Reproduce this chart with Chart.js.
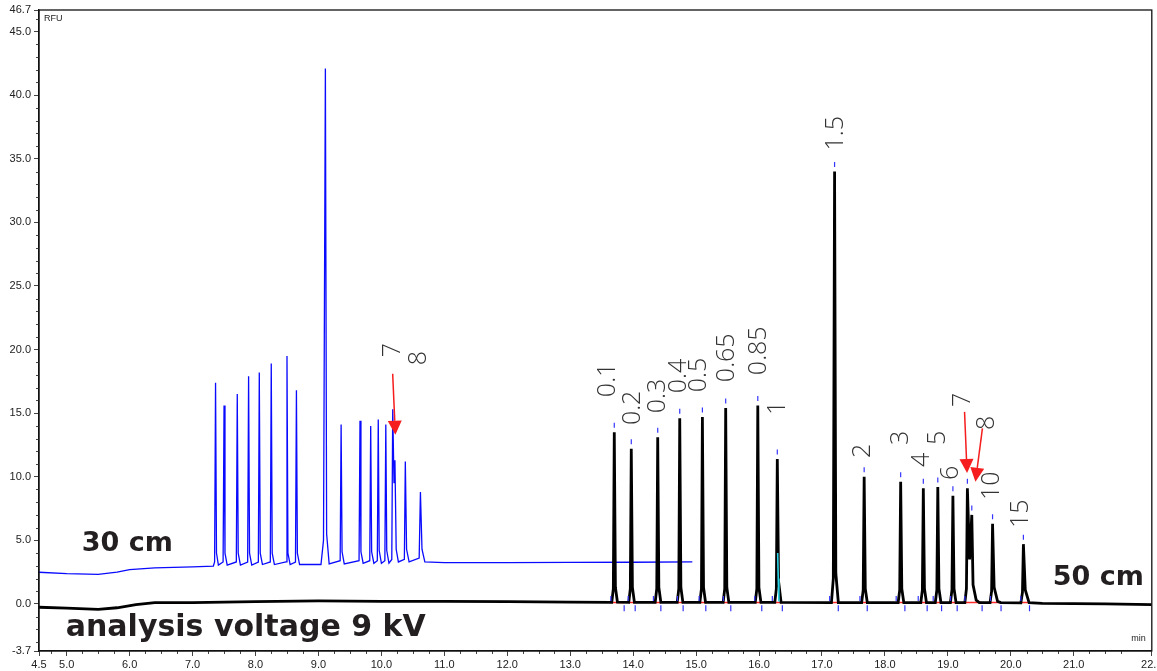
<!DOCTYPE html>
<html>
<head>
<meta charset="utf-8">
<script src="https://cdn.jsdelivr.net/npm/chart.js@4.4.1/dist/chart.umd.min.js"></script>
<style>
  html, body { margin: 0; padding: 0; background: #fff; }
  #wrap { width: 1157px; height: 671px; position: relative; }
</style>
</head>
<body>
<div id="wrap"><canvas id="electropherogram"></canvas></div>
<script>
// axis range and tick values (minutes / RFU)
const xMin = 4.56, xMax = 22.24;
const yMin = -3.7, yMax = 46.7;
const xTickValues = [4.56, 5, 6, 7, 8, 9, 10, 11, 12, 13, 14, 15, 16, 17, 18, 19, 20, 21, 22.24];
const yTickValues = [-3.7, 0, 5, 10, 15, 20, 25, 30, 35, 40, 45, 46.7];

// 30 cm capillary trace [min, RFU]
const blueTrace = [
  [4.56, 2.49], [5.0, 2.38], [5.5, 2.33], [5.8, 2.5], [6.0, 2.7], [6.4, 2.83], [7.0, 2.92], [7.33, 2.98],
  [7.35, 3.3], [7.365, 17.4], [7.38, 4.0], [7.41, 3.05],
  [7.485, 3.3], [7.50, 15.6], [7.515, 4.0], [7.55, 3.05],
  [7.695, 3.3], [7.71, 16.5], [7.725, 4.0], [7.76, 3.05],
  [7.875, 3.3], [7.89, 17.9], [7.905, 4.0], [7.94, 3.05],
  [8.045, 3.3], [8.06, 18.2], [8.075, 4.0], [8.11, 3.1],
  [8.235, 3.3], [8.25, 18.9], [8.265, 4.0], [8.30, 3.1],
  [8.485, 3.3], [8.50, 19.5], [8.515, 4.0], [8.55, 3.1],
  [8.635, 3.3], [8.65, 16.8], [8.665, 4.0], [8.70, 3.1],
  [9.04, 3.1], [9.08, 5.0], [9.11, 42.1], [9.13, 5.5], [9.17, 3.15],
  [9.345, 3.4], [9.36, 14.1], [9.375, 4.1], [9.41, 3.15],
  [9.645, 3.4], [9.66, 14.4], [9.675, 4.1], [9.71, 3.2],
  [9.815, 3.4], [9.83, 14.0], [9.845, 4.1], [9.88, 3.2],
  [9.935, 3.4], [9.95, 14.5], [9.965, 4.2], [10.0, 3.2],
  [10.055, 3.4], [10.07, 14.1], [10.085, 4.2], [10.12, 3.2],
  [10.165, 3.5], [10.18, 15.3], [10.20, 9.5], [10.215, 11.3], [10.235, 4.3], [10.27, 3.3],
  [10.365, 3.5], [10.38, 11.2], [10.40, 4.3], [10.44, 3.3],
  [10.60, 3.6], [10.62, 8.8], [10.645, 4.3], [10.69, 3.3],
  [11.0, 3.25], [12.0, 3.25], [13.0, 3.27], [14.0, 3.28], [14.94, 3.3]
];

// 50 cm capillary trace [min, RFU]
const blackTrace = [
  [4.56, -0.26], [5.0, -0.33], [5.5, -0.42], [5.8, -0.3], [6.1, -0.05], [6.4, 0.1], [7.0, 0.1],
  [8.0, 0.18], [9.0, 0.24], [10.0, 0.2], [11.0, 0.2], [12.0, 0.18], [13.0, 0.15],
  [13.66, 0.12], [13.685, 1.2], [13.70, 13.5], [13.718, 1.3], [13.75, 0.15],
  [13.93, 0.12], [13.955, 1.2], [13.97, 12.2], [13.988, 1.3], [14.02, 0.12],
  [14.35, 0.12], [14.375, 1.2], [14.39, 13.1], [14.408, 1.3], [14.44, 0.12],
  [14.70, 0.12], [14.725, 1.2], [14.74, 14.6], [14.758, 1.3], [14.79, 0.12],
  [15.06, 0.12], [15.085, 1.2], [15.10, 14.7], [15.118, 1.3], [15.15, 0.12],
  [15.43, 0.12], [15.455, 1.2], [15.47, 15.4], [15.488, 1.3], [15.52, 0.12],
  [15.94, 0.12], [15.965, 1.2], [15.98, 15.6], [15.998, 1.3], [16.03, 0.12],
  [16.25, 0.12], [16.275, 1.2], [16.29, 11.4], [16.31, 1.8], [16.35, 0.12],
  [17.15, 0.1], [17.18, 2.0], [17.20, 34.0], [17.22, 2.4], [17.26, 0.1],
  [17.63, 0.1], [17.655, 1.1], [17.67, 10.0], [17.688, 1.2], [17.72, 0.1],
  [18.21, 0.1], [18.235, 1.1], [18.25, 9.6], [18.268, 1.2], [18.30, 0.1],
  [18.57, 0.1], [18.595, 1.1], [18.61, 9.1], [18.628, 1.2], [18.66, 0.1],
  [18.80, 0.1], [18.825, 1.1], [18.84, 9.2], [18.858, 1.2], [18.89, 0.1],
  [19.04, 0.1], [19.065, 1.1], [19.08, 8.5], [19.098, 1.2], [19.13, 0.1],
  [19.27, 0.1], [19.295, 1.2], [19.31, 9.1], [19.345, 3.5], [19.38, 7.0], [19.40, 1.5], [19.45, 0.3], [19.50, 0.1],
  [19.67, 0.1], [19.695, 1.0], [19.71, 6.3], [19.735, 1.3], [19.79, 0.2], [19.84, 0.1],
  [20.16, 0.08], [20.185, 0.9], [20.20, 4.7], [20.23, 1.1], [20.29, 0.1],
  [20.5, 0.05], [21.0, 0.02], [21.5, 0.0], [22.24, -0.05]
];

// split of peak "1" shaded in cyan
const splitTrace = [[16.296, 4.0], [16.305, 2.0], [16.315, 0.2]];

// integrated peaks of the 50 cm run
const blackPeakTimes = [13.70, 13.97, 14.39, 14.74, 15.10, 15.47, 15.98, 16.29, 17.20, 17.67, 18.25, 18.61, 18.84, 19.08, 19.31, 19.38, 19.71, 20.20];
const blackPeakHeights = [13.5, 12.2, 13.1, 14.6, 14.7, 15.4, 15.6, 11.4, 34.0, 10.0, 9.6, 9.1, 9.2, 8.5, 9.1, 7.0, 6.3, 4.7];
const peakStarts = [13.646, 13.921, 14.322, 14.703, 15.048, 15.433, 15.932, 16.211, 17.122, 17.603, 18.179, 18.529, 18.767, 19.043, 19.27, 19.677, 20.159];
const peakEnds = [13.857, 14.032, 14.44, 14.794, 15.154, 15.551, 16.043, 16.37, 17.259, 17.719, 18.317, 18.671, 18.9, 19.148, 19.544, 19.845, 20.297];
const integrationBase = 0.12;

// fragment size labels (kb), text foot at [min, RFU]
const sizeLabels = ['0.1', '0.2', '0.3', '0.4', '0.5', '0.65', '0.85', '1', '1.5', '2', '3', '4', '5', '6', '7', '8', '10', '15', '7', '8'];
const labelTimes = [13.598, 13.994, 14.39, 14.723, 15.04, 15.484, 15.992, 16.293, 17.228, 17.656, 18.259, 18.592, 18.846, 19.052, 19.242, 19.623, 19.702, 20.162, 10.189, 10.601];
const labelLevels = [16.26, 14.06, 15.0, 16.57, 16.65, 17.44, 17.99, 14.85, 35.66, 11.47, 12.49, 10.76, 12.49, 9.74, 15.48, 13.67, 8.17, 5.97, 19.4, 18.77];

// red arrows: tail and tip [min, RFU]
const arrowTails = [[10.179, 18.1], [19.265, 15.1], [19.549, 13.8]];
const arrowTips = [[10.222, 13.3], [19.305, 10.3], [19.438, 9.6]];

// caption texts, left end of baseline at [min, RFU]
const captions = ['30 cm', 'analysis voltage 9 kV', '50 cm'];
const captionAt = [[5.239, 4.16], [4.985, -2.51], [20.667, 1.49]];
const captionSize = [27, 30, 27];

const toXY = arr => arr.map(p => ({ x: p[0], y: p[1] }));

const segments = [];
peakStarts.forEach((s, i) => {
  segments.push({ x: s, y: integrationBase }, { x: peakEnds[i], y: integrationBase }, { x: peakEnds[i], y: null });
});

const frameAndText = {
  id: 'frameAndText',
  afterDatasetsDraw(chart) {
    const { ctx, chartArea: a, scales: { x, y } } = chart;
    ctx.save();
    // minor ticks
    ctx.strokeStyle = '#444';
    ctx.lineWidth = 1;
    ctx.beginPath();
    for (let v = -3; v <= 46; v++) {
      if (v % 5 === 0) continue;
      const py = Math.round(y.getPixelForValue(v)) + 0.5;
      ctx.moveTo(a.left - 3, py); ctx.lineTo(a.left, py);
    }
    for (let v = 4.75; v <= 22.0; v += 0.25) {
      if (Math.abs(v - Math.round(v)) < 0.01) continue;
      const px = Math.round(x.getPixelForValue(v)) + 0.5;
      ctx.moveTo(px, a.bottom); ctx.lineTo(px, a.bottom + 3);
    }
    ctx.stroke();
    // frame
    ctx.strokeStyle = '#111';
    ctx.lineWidth = 1.3;
    ctx.strokeRect(a.left, a.top, a.right - a.left, a.bottom - a.top);

    // axis titles
    ctx.fillStyle = '#222';
    ctx.font = '9px "Liberation Sans", Arial, sans-serif';
    ctx.textBaseline = 'middle';
    ctx.textAlign = 'left';
    ctx.fillText('RFU', a.left + 5, a.top + 9);
    ctx.textAlign = 'right';
    ctx.fillText('min', a.right - 6, a.bottom - 12);

    // size labels, rotated
    ctx.fillStyle = '#333';
    ctx.font = '300 25px "Open Sans", Lato, sans-serif';
    ctx.textAlign = 'left';
    ctx.textBaseline = 'middle';
    sizeLabels.forEach((t, i) => {
      ctx.save();
      ctx.translate(x.getPixelForValue(labelTimes[i]), y.getPixelForValue(labelLevels[i]));
      ctx.rotate(-Math.PI / 2);
      ctx.fillText(t, 0, 0);
      ctx.restore();
    });

    // arrows
    ctx.strokeStyle = '#f51d1d';
    ctx.fillStyle = '#f51d1d';
    ctx.lineWidth = 1.5;
    arrowTails.forEach((tail, i) => {
      const x0 = x.getPixelForValue(tail[0]), y0 = y.getPixelForValue(tail[1]);
      const x1 = x.getPixelForValue(arrowTips[i][0]), y1 = y.getPixelForValue(arrowTips[i][1]);
      const ang = Math.atan2(y1 - y0, x1 - x0);
      const len = 14, hw = 7;
      const bx = x1 - len * Math.cos(ang), by = y1 - len * Math.sin(ang);
      ctx.beginPath();
      ctx.moveTo(x0, y0); ctx.lineTo(bx, by);
      ctx.stroke();
      ctx.beginPath();
      ctx.moveTo(x1, y1);
      ctx.lineTo(bx + hw * Math.sin(ang), by - hw * Math.cos(ang));
      ctx.lineTo(bx - hw * Math.sin(ang), by + hw * Math.cos(ang));
      ctx.closePath();
      ctx.fill();
    });

    // captions
    ctx.fillStyle = '#231f20';
    ctx.textAlign = 'left';
    ctx.textBaseline = 'alphabetic';
    captions.forEach((c, i) => {
      ctx.font = 'bold ' + captionSize[i] + 'px "DejaVu Sans", sans-serif';
      ctx.fillText(c, x.getPixelForValue(captionAt[i][0]), y.getPixelForValue(captionAt[i][1]));
    });
    ctx.restore();
  }
};

new Chart(document.getElementById('electropherogram'), {
  type: 'line',
  data: {
    datasets: [
      {
        label: 'apex',
        data: blackPeakTimes.map((t, i) => ({ x: t, y: blackPeakHeights[i] + 0.55 })),
        showLine: false, pointStyle: 'line', rotation: 90, pointRadius: 2.5,
        pointBorderColor: '#3535ff', pointBorderWidth: 1.2, order: 0
      },
      {
        label: 'start',
        data: peakStarts.map(t => ({ x: t, y: integrationBase + 0.3 })),
        showLine: false, pointStyle: 'line', rotation: 90, pointRadius: 2.5,
        pointBorderColor: '#3535ff', pointBorderWidth: 1.2, order: 0
      },
      {
        label: 'end',
        data: peakEnds.map(t => ({ x: t, y: integrationBase - 0.45 })),
        showLine: false, pointStyle: 'line', rotation: 90, pointRadius: 3,
        pointBorderColor: '#3535ff', pointBorderWidth: 1.2, order: 0
      },
      {
        label: 'split',
        data: toXY(splitTrace),
        borderColor: '#2ad4e6', borderWidth: 1.6, pointRadius: 0, tension: 0, order: 0
      },
      {
        label: '50 cm',
        data: toXY(blackTrace),
        borderColor: '#000', borderWidth: 2.8, pointRadius: 0, tension: 0, order: 1
      },
      {
        label: '30 cm',
        data: toXY(blueTrace),
        borderColor: '#0a0aff', borderWidth: 1.3, pointRadius: 0, tension: 0, order: 2
      },
      {
        label: 'baseline',
        data: segments,
        borderColor: '#ff2a2a', borderWidth: 1.5, pointRadius: 0, spanGaps: false, order: 3
      }
    ]
  },
  options: {
    responsive: true,
    maintainAspectRatio: false,
    animation: false,
    devicePixelRatio: 1,
    layout: { padding: { top: 10, right: 3, left: 0, bottom: 0 } },
    plugins: { legend: { display: false }, tooltip: { enabled: false } },
    scales: {
      x: {
        type: 'linear', min: xMin, max: xMax,
        afterBuildTicks: axis => { axis.ticks = xTickValues.map(v => ({ value: v })); },
        afterFit: axis => { axis.height = 20; axis.paddingLeft = 0; axis.paddingRight = 0; },
        ticks: {
          autoSkip: false, maxRotation: 0, padding: 2, color: '#222',
          font: { family: '"Liberation Sans", Arial, sans-serif', size: 11 },
          callback: v => (Math.floor(v * 10 + 1e-6) / 10).toFixed(1)
        },
        grid: { drawOnChartArea: false, drawTicks: true, tickLength: 5, color: '#444' },
        border: { display: true, color: '#111', width: 1.3 }
      },
      y: {
        type: 'linear', min: yMin, max: yMax,
        afterBuildTicks: axis => { axis.ticks = yTickValues.map(v => ({ value: v })); },
        afterFit: axis => { axis.width = 39; axis.paddingTop = 0; axis.paddingBottom = 0; },
        ticks: {
          autoSkip: false, padding: 3, color: '#222',
          font: { family: '"Liberation Sans", Arial, sans-serif', size: 11 },
          callback: v => v.toFixed(1)
        },
        grid: { drawOnChartArea: false, drawTicks: true, tickLength: 5, color: '#444' },
        border: { display: true, color: '#111', width: 1.3 }
      }
    }
  },
  plugins: [frameAndText]
});
</script>
</body>
</html>
